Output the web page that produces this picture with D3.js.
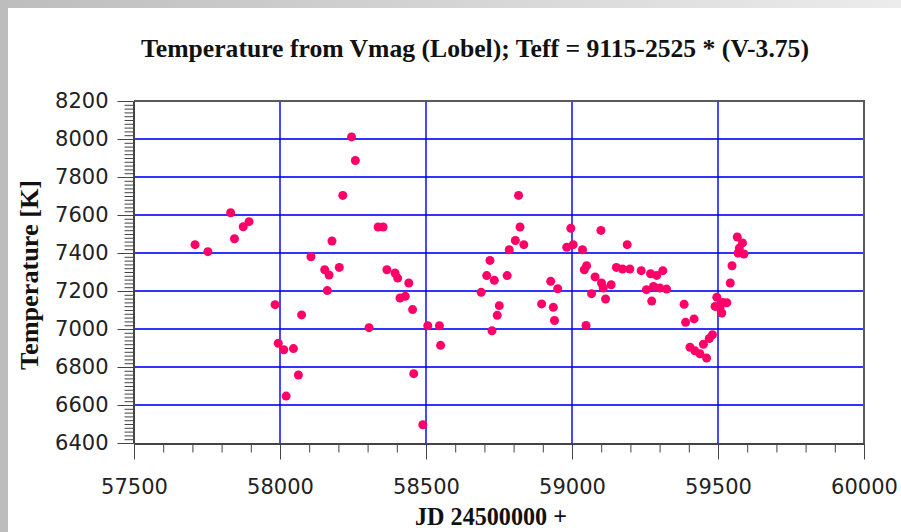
<!DOCTYPE html>
<html>
<head>
<meta charset="utf-8">
<script src="https://cdn.jsdelivr.net/npm/d3@7"></script>
<style>
  body { margin: 0; background: #fff; }
  svg { display: block; }
</style>
</head>
<body>
<main></main>
<script>
// Set dimensions
const w = 901;
const h = 532;
const plot = { left: 134, right: 864, top: 101, bottom: 443 };

// Data: JD - 2450000 (x) and temperature in K (y)
const jd = [
  57709, 57753, 57831, 57844, 57874, 57894, 57983, 57994, 58013, 58046,
  58074, 58063, 58021, 58106, 58153, 58168, 58162, 58203, 58178, 58215,
  58245, 58258, 58305, 58336, 58353, 58366, 58394, 58403, 58441, 58411,
  58429, 58454, 58458, 58489, 58506, 58546, 58550,
  58689, 58708, 58734, 58719, 58726, 58744, 58751, 58778, 58785, 58806,
  58822, 58817, 58835, 58896, 58927, 58936, 58940, 58951, 58982, 59004,
  58996, 59036, 59042, 59050, 59048, 59067, 59079, 59099, 59101, 59107,
  59115, 59134, 59152, 59173, 59189, 59198, 59237, 59255, 59269, 59273,
  59279, 59290, 59301, 59311, 59324,
  59384, 59389, 59418, 59404, 59421, 59438, 59461, 59450, 59470, 59481,
  59496, 59490, 59507, 59513, 59516, 59530, 59542, 59548, 59566, 59584,
  59573, 59589, 59569
];
const teff = [
  7444, 7407, 7612, 7475, 7538, 7565, 7128, 6925, 6891, 6897,
  7074, 6758, 6647, 7380, 7312, 7284, 7202, 7324, 7463, 7703,
  8011, 7887, 7007, 7537, 7537, 7312, 7295, 7268, 7242, 7163,
  7172, 7102, 6765, 6496, 7017, 7017, 6914,
  7193, 7281, 7256, 7361, 6991, 7072, 7123, 7281, 7417, 7466,
  7537, 7703, 7444, 7132, 7251, 7114, 7045, 7212, 7430, 7444,
  7530, 7417, 7312, 7333, 7019, 7186, 7274, 7519, 7242, 7216,
  7158, 7233, 7324, 7316, 7444, 7316, 7307, 7207, 7291, 7147,
  7224, 7282, 7216, 7307, 7210,
  7130, 7035, 7053, 6904, 6885, 6870, 6847, 6920, 6950, 6970,
  7167, 7119, 7110, 7084, 7140, 7138, 7242, 7333, 7484, 7453,
  7426, 7395, 7400
];

// Tick labels
const xTicks = [57500, 58000, 58500, 59000, 59500, 60000];
const yTicks = [6400, 6600, 6800, 7000, 7200, 7400, 7600, 7800, 8000, 8200];
const xMinorStep = 100;
const yMinorStep = 20;

const title = "Temperature from Vmag (Lobel); Teff = 9115-2525 * (V-3.75)";
const xLabel = "JD 24500000 +";
const yLabel = "Temperature [K]";

const data = jd.map((d, i) => ({ x: d, y: teff[i] }));

// Create svg
const svg = d3
  .select("main")
  .append("svg")
  .attr("width", w)
  .attr("height", h)
  .attr("viewBox", `0 0 ${w} ${h}`);

// Page frame (grey strips on the left and top)
const defs = svg.append("defs");
const grad = defs
  .append("linearGradient")
  .attr("id", "topbar")
  .attr("x1", "0%")
  .attr("x2", "100%");
grad.append("stop").attr("offset", "0%").attr("stop-color", "#bdbdbd");
grad.append("stop").attr("offset", "100%").attr("stop-color", "#ececec");

svg.append("rect").attr("width", w).attr("height", h).attr("fill", "#fff");
svg.append("rect").attr("width", w).attr("height", 8).attr("fill", "url(#topbar)");
svg.append("rect").attr("width", 8).attr("height", h).attr("fill", "#bdbdbd");

// Scales
const xScale = d3.scaleLinear().domain([57500, 60000]).range([plot.left, plot.right]);
const yScale = d3.scaleLinear().domain([6400, 8200]).range([plot.bottom, plot.top]);

// Grid lines
svg
  .append("g")
  .selectAll("line")
  .data(yTicks.slice(1, -1))
  .join("line")
  .attr("x1", plot.left)
  .attr("x2", plot.right)
  .attr("y1", (d) => yScale(d))
  .attr("y2", (d) => yScale(d))
  .attr("stroke", "#0000ff")
  .attr("stroke-opacity", 0.8)
  .attr("stroke-width", 1.8);

svg
  .append("g")
  .selectAll("line")
  .data(xTicks.slice(1, -1))
  .join("line")
  .attr("x1", (d) => xScale(d))
  .attr("x2", (d) => xScale(d))
  .attr("y1", plot.top)
  .attr("y2", plot.bottom)
  .attr("stroke", "#0000ff")
  .attr("stroke-opacity", 0.8)
  .attr("stroke-width", 1.8);

// Frame top and right
svg
  .append("path")
  .attr("d", `M${plot.left},${plot.top}H${plot.right}V${plot.bottom}`)
  .attr("fill", "none")
  .attr("stroke", "#5a5a5a")
  .attr("stroke-width", 2);

const tickFont = "'DejaVu Sans', sans-serif";
const styleTicks = (g) =>
  g
    .selectAll("text")
    .attr("fill", "#222")
    .style("font-family", tickFont)
    .style("font-size", "21px");

// Y axis (minor then major)
svg
  .append("g")
  .attr("transform", `translate(${plot.left - 0.5}, 0)`)
  .call(d3.axisLeft(yScale).tickValues(d3.range(6400, 8201, yMinorStep)).tickSize(9).tickFormat(""))
  .call((g) => g.select(".domain").remove())
  .attr("color", "#444");

svg
  .append("g")
  .attr("transform", `translate(${plot.left - 0.5}, 0)`)
  .call(
    d3.axisLeft(yScale).tickValues(yTicks).tickFormat(d3.format("d"))
      .tickSize(16).tickPadding(9).tickSizeOuter(0)
  )
  .attr("color", "#444")
  .call((g) => g.select(".domain").attr("stroke-width", 2))
  .call(styleTicks);

// X axis (minor then major)
svg
  .append("g")
  .attr("transform", `translate(0, ${plot.bottom + 0.5})`)
  .call(d3.axisBottom(xScale).tickValues(d3.range(57500, 60001, xMinorStep)).tickSize(9).tickFormat(""))
  .call((g) => g.select(".domain").remove())
  .attr("color", "#444");

svg
  .append("g")
  .attr("transform", `translate(0, ${plot.bottom + 0.5})`)
  .call(
    d3.axisBottom(xScale).tickValues(xTicks).tickFormat(d3.format("d"))
      .tickSize(16).tickPadding(20).tickSizeOuter(0)
  )
  .attr("color", "#444")
  .call((g) => g.select(".domain").attr("stroke-width", 2))
  .call(styleTicks);

// Points
svg
  .append("g")
  .selectAll("circle")
  .data(data)
  .join("circle")
  .attr("cx", (d) => xScale(d.x))
  .attr("cy", (d) => yScale(d.y))
  .attr("r", 4.5)
  .attr("fill", "#ff0068");

// Title and axis labels
const serif = "'Liberation Serif', 'DejaVu Serif', serif";

svg
  .append("text")
  .attr("x", 475)
  .attr("y", 57)
  .attr("text-anchor", "middle")
  .attr("textLength", 668)
  .attr("lengthAdjust", "spacingAndGlyphs")
  .style("font-family", serif)
  .style("font-weight", "bold")
  .style("font-size", "25px")
  .attr("fill", "#111")
  .text(title);

svg
  .append("text")
  .attr("x", 491)
  .attr("y", 525)
  .attr("text-anchor", "middle")
  .attr("textLength", 152)
  .attr("lengthAdjust", "spacingAndGlyphs")
  .style("font-family", serif)
  .style("font-weight", "bold")
  .style("font-size", "25px")
  .attr("fill", "#111")
  .text(xLabel);

svg
  .append("text")
  .attr("transform", `translate(38, 275) rotate(-90)`)
  .attr("text-anchor", "middle")
  .attr("textLength", 190)
  .attr("lengthAdjust", "spacingAndGlyphs")
  .style("font-family", serif)
  .style("font-weight", "bold")
  .style("font-size", "25px")
  .attr("fill", "#111")
  .text(yLabel);
</script>
</body>
</html>
